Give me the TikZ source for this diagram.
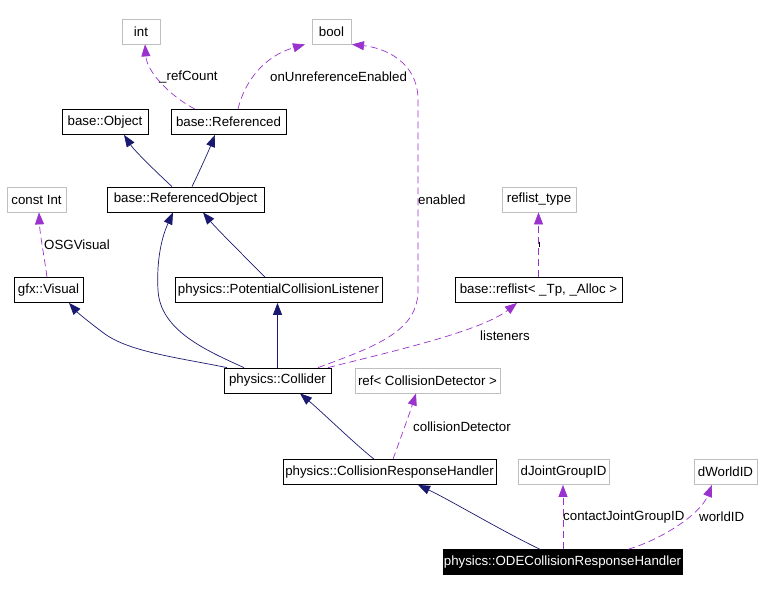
\documentclass[tikz,border=0pt]{standalone}
\usepackage{fontspec}
\setmainfont{Liberation Sans}
\usetikzlibrary{arrows.meta}
\definecolor{inhblue}{HTML}{191970}
\definecolor{usepurple}{HTML}{9A32CD}
\definecolor{boxgray}{HTML}{BFBFBF}
\tikzset{
  cls/.style={draw=black, line width=0.8pt, fill=white, inner sep=0pt, minimum height=25pt, font=\fontsize{13.3}{15}\selectfont},
  ext/.style={draw=boxgray, line width=0.8pt, fill=white, inner sep=0pt, minimum height=25pt, font=\fontsize{13.3}{15}\selectfont},
  focus/.style={draw=black, fill=black, text=white, inner sep=0pt, minimum height=25pt, font=\fontsize{13.3}{15}\selectfont},
  inh/.style={draw=inhblue, line width=0.7pt, -{Triangle[length=12pt,width=9pt]}},
  usage/.style={draw=usepurple, line width=0.7pt, dash pattern=on 7pt off 4pt, -{Triangle[length=12pt,width=9pt]}},
  lbl/.style={font=\fontsize{13.3}{15}\selectfont, inner sep=0pt, anchor=west}
}
\begin{document}
\begin{tikzpicture}[x=1pt,y=-1pt]
\useasboundingbox (0,0) rectangle (778,592);
% nodes
\node[ext, minimum width=38pt] (int) at (141,31.5) {int};
\node[ext, minimum width=39pt] (bool) at (331.5,31.5) {bool};
\node[cls, minimum width=86pt] (obj) at (105,122) {base::Object};
\node[cls, minimum width=115pt] (ref) at (228.5,122) {base::Referenced};
\node[ext, minimum width=59pt] (cint) at (36.5,199.5) {const Int};
\node[cls, minimum width=157pt] (robj) at (185.5,199.5) {base::ReferencedObject};
\node[ext, minimum width=74pt] (rtype) at (539,199.5) {reflist\_type};
\node[cls, minimum width=69pt] (vis) at (48.5,290) {gfx::Visual};
\node[cls, minimum width=207pt] (pcl) at (278.5,290) {physics::PotentialCollisionListener};
\node[cls, minimum width=167pt] (rlist) at (538.5,290) {base::reflist< \_Tp, \_Alloc >};
\node[cls, minimum width=107pt] (coll) at (277.5,380.5) {physics::Collider};
\node[ext, minimum width=145pt] (rcd) at (427.5,380.5) {ref< CollisionDetector >};
\node[cls, minimum width=213pt] (crh) at (389.5,472) {physics::CollisionResponseHandler};
\node[ext, minimum width=91pt] (djg) at (563.5,472) {dJointGroupID};
\node[ext, minimum width=63pt] (dwid) at (725.5,472) {dWorldID};
\node[focus, minimum width=239pt] (ode) at (562.5,562) {physics::ODECollisionResponseHandler};
% inheritance
\draw[inh] ([xshift=-13.5pt]robj.north) .. controls (152,168) and (134,150) .. ([xshift=19pt]obj.south);
\draw[inh] ([xshift=6.5pt]robj.north) .. controls (201,168) and (209,150) .. ([xshift=-13.5pt]ref.south);
\draw[inh] ([xshift=-33.5pt]coll.north) .. controls (205,350) and (160,330) .. (158,290) .. controls (156,252) and (165,230) .. ([xshift=-12.5pt]robj.south);
\draw[inh] ([xshift=-50.5pt]coll.north) .. controls (180,358) and (130,352) .. (105,334) .. controls (90,323) and (78,313) .. ([xshift=20.5pt]vis.south);
\draw[inh] (coll.north) -- (coll.north |- pcl.south);
\draw[inh] ([xshift=-13.5pt]pcl.north) .. controls (240,252) and (216,228) .. ([xshift=17.5pt]robj.south);
\draw[inh] ([xshift=-15.5pt]crh.north) .. controls (356,445) and (322,412) .. ([xshift=22.5pt]coll.south);
\draw[inh] ([xshift=-22.5pt]ode.north) .. controls (500,530) and (450,500) .. ([xshift=28.5pt]crh.south);
% usage
\draw[usage] ([xshift=-33.5pt]ref.north) .. controls (170,96) and (147,72) .. ([xshift=4pt]int.south);
\node[lbl] (l1) at (159,77) {\_refCount};
\draw[usage] ([xshift=9.5pt]ref.north) .. controls (245,80) and (265,56) .. ([xshift=-26.5pt]bool.south);
\node[lbl] (l2) at (270,77) {onUnreferenceEnabled};
\draw[usage] ([xshift=40.5pt]coll.north) .. controls (380,345) and (418,330) .. (418,290) -- (418,100) .. controls (418,62) and (385,48) .. ([xshift=20.5pt]bool.south);
\node[lbl] (l3) at (418,200) {enabled};
\draw[usage] ([xshift=50.5pt]coll.north) .. controls (385,353) and (480,332) .. ([xshift=-21.5pt]rlist.south);
\node[lbl] (l4) at (480,336) {listeners};
\draw[usage] (rlist.north) -- (rlist.north |- rtype.south);
\node[fill=black, inner sep=0pt, minimum width=1pt, minimum height=5pt] (l5) at (539.5,244.5) {};
\draw[usage] ([xshift=3.5pt]crh.north) .. controls (400,440) and (410,412) .. ([xshift=-11.5pt]rcd.south);
\node[lbl] (l6) at (413,427) {collisionDetector};
\draw[usage] ([xshift=0.5pt]ode.north) -- ([xshift=0.5pt]ode.north |- djg.south);
\node[lbl] (l7) at (563,517) {contactJointGroupID};
\draw[usage] ([xshift=65.5pt]ode.north) .. controls (660,540) and (700,515) .. ([xshift=-13.5pt]dwid.south);
\node[lbl] (l8) at (699,517) {worldID};
\draw[usage] ([xshift=-1.5pt]vis.north) .. controls (44,255) and (40,235) .. ([xshift=2.5pt]cint.south);
\node[lbl] (l9) at (44,245) {OSGVisual};
\end{tikzpicture}
\end{document}
